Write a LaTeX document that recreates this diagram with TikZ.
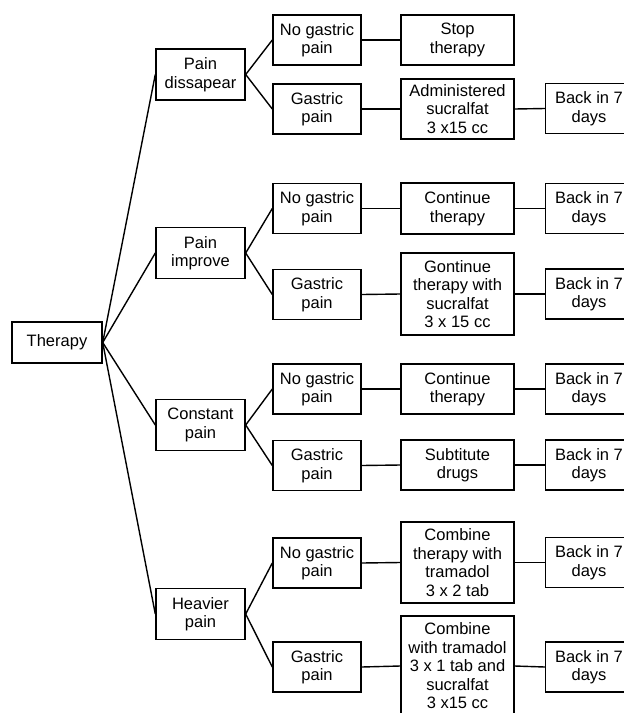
\documentclass[tikz,border=0pt]{standalone}
\usepackage{fontspec}
\setmainfont{Liberation Sans}
\begin{document}
\begin{tikzpicture}[x=1pt,y=-1pt,
  box/.style={draw, line width=1.4pt, align=center, inner sep=0pt,
    font=\fontsize{16.5}{18.5}\selectfont},
  lone/.style={box, minimum width=89pt, minimum height=51pt},
  ltwo/.style={box, minimum width=88pt, minimum height=50pt},
  lthree/.style={box, minimum width=113pt},
  lback/.style={box, minimum width=87pt, minimum height=50pt},
  link/.style={line width=1.4pt}]
\useasboundingbox (0,0) rectangle (624,713);
\fill[white] (0,0) rectangle (624,713);

\node[box, minimum width=90pt, minimum height=41pt] (t) at (57,342.5) {Therapy};

\node[lone] (a) at (200.5,74.5) {Pain\\dissapear};
\node[lone] (b) at (200.5,253) {Pain\\improve};
\node[lone] (c) at (200.5,425) {Constant\\pain};
\node[lone] (d) at (200.5,614) {Heavier\\pain};

\node[ltwo] (a1) at (317,40) {No gastric\\pain};
\node[ltwo] (a2) at (317,109) {Gastric\\pain};
\node[ltwo] (b1) at (317,208.5) {No gastric\\pain};
\node[ltwo] (b2) at (317,294.5) {Gastric\\pain};
\node[ltwo] (c1) at (317,389) {No gastric\\pain};
\node[ltwo] (c2) at (317,465.5) {Gastric\\pain};
\node[ltwo] (d1) at (317,563) {No gastric\\pain};
\node[ltwo] (d2) at (317,667) {Gastric\\pain};

\node[lthree, minimum height=50pt] (a1x) at (457.5,40) {Stop\\therapy};
\node[lthree, minimum height=60pt] (a2x) at (457.5,109) {Administered\\sucralfat\\3 x15 cc};
\node[lthree, minimum height=51pt] (b1x) at (457.5,208.5) {Continue\\therapy};
\node[lthree, minimum height=82pt] (b2x) at (457.5,294) {Gontinue\\therapy with\\sucralfat\\3 x 15 cc};
\node[lthree, minimum height=50pt] (c1x) at (457.5,389) {Continue\\therapy};
\node[lthree, minimum height=50pt] (c2x) at (457.5,465) {Subtitute\\drugs};
\node[lthree, minimum height=81pt] (d1x) at (457.5,562.5) {Combine\\therapy with\\tramadol\\3 x 2 tab};
\node[lthree, minimum height=100pt] (d2x) at (457.5,666) {Combine\\with tramadol\\3 x 1 tab and\\sucralfat\\3 x15 cc};

\node[lback] (a2y) at (589,108.5) {Back in 7\\days};
\node[lback] (b1y) at (589,208.5) {Back in 7\\days};
\node[lback] (b2y) at (589,294) {Back in 7\\days};
\node[lback] (c1y) at (589,389) {Back in 7\\days};
\node[lback] (c2y) at (589,465) {Back in 7\\days};
\node[lback] (d1y) at (589,562.5) {Back in 7\\days};
\node[lback] (d2y) at (589,667) {Back in 7\\days};

\foreach \p in {a,b,c,d} {
  \draw[link] (t.east) -- (\p.west);
  \draw[link] (\p.east) -- (\p1.west);
  \draw[link] (\p.east) -- (\p2.west);
  \draw[link] (\p1.east) -- (\p1x.west);
  \draw[link] (\p2.east) -- (\p2x.west);
}
\foreach \q in {a2,b1,b2,c1,c2,d1,d2} {
  \draw[link] (\q x.east) -- (\q y.west);
}
\end{tikzpicture}
\end{document}
